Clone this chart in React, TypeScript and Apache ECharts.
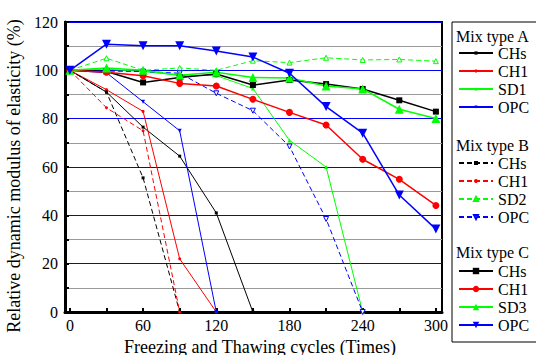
import React, { useEffect, useRef } from "react";
import * as echarts from "echarts";

const cycles = [0, 30, 60, 90, 120, 150, 180, 210, 240, 270, 300];

// Mix type A
const aCHs = [100, 91, 76.5, 64.5, 41, 0];
const aCH1 = [100, 92, 83, 22, 0];
const aSD1 = [100, 100.5, 99.5, 98, 97.8, 92.5, 71, 60, 0];
const aOPC = [100, 99, 87, 75, 0];

// Mix type B
const bCHs = [100, 91, 55.5, 0];
const bCH1 = [100, 84.5, 75, 0];
const bSD2 = [100, 105, 100, 101, 100, 104, 103.2, 105.2, 104.3, 104.5, 103.8];
const bOPC = [100, 99.7, 99.5, 98.8, 90.5, 83.3, 68.5, 38.5, 0];

// Mix type C
const cCHs = [100, 99.5, 95, 97, 98.5, 93.9, 96, 94.3, 92.3, 87.6, 82.9];
const cCH1 = [100, 99.2, 97.8, 94.6, 93.5, 88, 82.6, 77.4, 63.2, 54.9, 44.1];
const cSD3 = [100, 101, 100, 98, 99.2, 97, 96.8, 93.5, 92.3, 83.9, 80.1];
const cOPC = [100, 110.8, 110.2, 110.2, 108, 105.5, 98.8, 85, 74, 48.4, 34.3];

const xLabelValues = [0, 60, 120, 180, 240, 300];
const xTickValues = [0, 30, 60, 90, 120, 150, 180, 210, 240, 270, 300];

const FONT = "'Liberation Serif', 'Times New Roman', serif";
const BLACK = "#000000";
const RED = "#ff0000";
const GREEN = "#00ff00";
const BLUE = "#0000ff";

const pair = (vals: number[]) => vals.map((v, i) => [cycles[i], v]);

type Spec = {
  name: string;
  data: number[];
  color: string;
  dashed: boolean;
  symbol: string;
  size: number;
  rotate?: number;
  width: number;
  empty?: boolean;
};

const specs: Spec[] = [
  { name: "A|CHs", data: aCHs, color: BLACK, dashed: false, symbol: "rect", size: 3, width: 1 },
  { name: "A|CH1", data: aCH1, color: RED, dashed: false, symbol: "circle", size: 3, width: 1 },
  { name: "A|SD1", data: aSD1, color: GREEN, dashed: false, symbol: "triangle", size: 4, width: 1 },
  { name: "A|OPC", data: aOPC, color: BLUE, dashed: false, symbol: "triangle", size: 4, rotate: 180, width: 1 },
  { name: "B|CHs", data: bCHs, color: BLACK, dashed: true, symbol: "rect", size: 3, width: 1 },
  { name: "B|CH1", data: bCH1, color: RED, dashed: true, symbol: "circle", size: 3, width: 1 },
  { name: "B|SD2", data: bSD2, color: GREEN, dashed: true, symbol: "triangle", size: 5, width: 1, empty: true },
  { name: "B|OPC", data: bOPC, color: BLUE, dashed: true, symbol: "triangle", size: 5, rotate: 180, width: 1, empty: true },
  { name: "C|CHs", data: cCHs, color: BLACK, dashed: false, symbol: "rect", size: 6, width: 1.5 },
  { name: "C|CH1", data: cCH1, color: RED, dashed: false, symbol: "circle", size: 7, width: 1.5 },
  { name: "C|SD3", data: cSD3, color: GREEN, dashed: false, symbol: "triangle", size: 9, width: 1.5 },
  { name: "C|OPC", data: cOPC, color: BLUE, dashed: false, symbol: "triangle", size: 9, rotate: 180, width: 1.5 },
];

export default function App() {
  const ref = useRef<HTMLDivElement>(null);
  useEffect(() => {
    document.body.style.margin = "0";
    if (!ref.current) return;
    const chart = echarts.init(ref.current, undefined, { renderer: "svg" });
    const series = specs.map((s) => ({
      type: "line",
      name: s.name,
      data: pair(s.data),
      symbol: s.symbol,
      symbolSize: s.size,
      symbolRotate: s.rotate || 0,
      showAllSymbol: true,
      clip: false,
      z: s.name.startsWith("C") ? 4 : 3,
      lineStyle: { color: s.color, width: s.width, type: s.dashed ? [5, 3] : "solid" },
      itemStyle: s.empty
        ? { color: "#ffffff", borderColor: s.color, borderWidth: 1 }
        : { color: s.color, borderColor: s.color, borderWidth: 0 },
    }));
    const legendBase = {
      orient: "vertical",
      left: 458,
      padding: 0,
      itemGap: 0,
      itemWidth: 34,
      selectedMode: false,
      formatter: (n: string) => n.split("|")[1],
      textStyle: { fontFamily: FONT, fontSize: 16, color: "#000", lineHeight: 18 },
    };
    const group = (g: string) => specs.filter((s) => s.name.startsWith(g)).map((s) => s.name);
    const labelStyle = { fontFamily: FONT, fontSize: 16, color: "#000000" };
    const titleStyle = { fontFamily: FONT, fontSize: 18, color: "#000000", lineHeight: 18 };
    const heading = (text: string, y: number) => ({
      type: "text",
      x: 456,
      y,
      style: { text, fontFamily: FONT, fontSize: 16, fill: "#000", verticalAlign: "middle" },
    });
    chart.setOption({
      animation: false,
      backgroundColor: "#ffffff",
      textStyle: { fontFamily: FONT, fontSize: 16, color: "#000000" },
      grid: {
        left: 65,
        right: 94,
        top: 22,
        bottom: 43,
        outerBoundsMode: "none",
        containLabel: false,
        show: true,
        borderColor: "#000",
        borderWidth: 2,
        backgroundColor: "transparent",
      },
      legend: [
        { ...legendBase, top: 44, itemHeight: 4, data: group("A") },
        { ...legendBase, top: 154, itemHeight: 5, data: group("B") },
        { ...legendBase, top: 262, itemHeight: 8, data: group("C") },
      ],
      graphic: [
        {
          type: "rect",
          shape: { x: 452, y: 22, width: 100, height: 320 },
          style: { fill: "transparent", stroke: "#000", lineWidth: 1 },
        },
        heading("Mix type A", 36),
        heading("Mix type B", 145),
        heading("Mix type C", 252),
      ],
      xAxis: {
        type: "value",
        min: -4,
        max: 305,
        name: "Freezing and Thawing cycles (Times)",
        nameLocation: "middle",
        nameGap: 21,
        nameTextStyle: { ...titleStyle, padding: [0, 0, 0, 13] },
        axisLine: { show: true, onZero: false, lineStyle: { color: "#000", width: 3 } },
        axisTick: {
          show: true,
          inside: true,
          length: 4,
          customValues: xTickValues,
          lineStyle: { color: "#000", width: 2 },
        },
        axisLabel: {
          customValues: xLabelValues,
          margin: 5,
          ...labelStyle,
        },
        splitLine: { show: false },
      },
      yAxis: {
        type: "value",
        min: 0,
        max: 120,
        interval: 20,
        name: "Relative dynamic modulus of elasticity (%)",
        nameLocation: "middle",
        nameGap: 20,
        nameTextStyle: { ...titleStyle, padding: [0, 18, 0, 0] },
        axisLine: { show: true, onZero: false, lineStyle: { color: "#000", width: 3 } },
        axisTick: { show: true, inside: true, length: 4, lineStyle: { color: "#000", width: 2 } },
        minorTick: { show: true, splitNumber: 2, length: 4, lineStyle: { color: "#000", width: 2 } },
        axisLabel: {
          margin: 7,
          ...labelStyle,
        },
        splitLine: { show: true, lineStyle: { color: BLUE, width: 1 } },
        minorSplitLine: { show: true, lineStyle: { color: "#999999", width: 1 } },
      },
      series,
    });
    return () => chart.dispose();
  }, []);
  return <div ref={ref} style={{ width: 536, height: 355 }} />;
}
